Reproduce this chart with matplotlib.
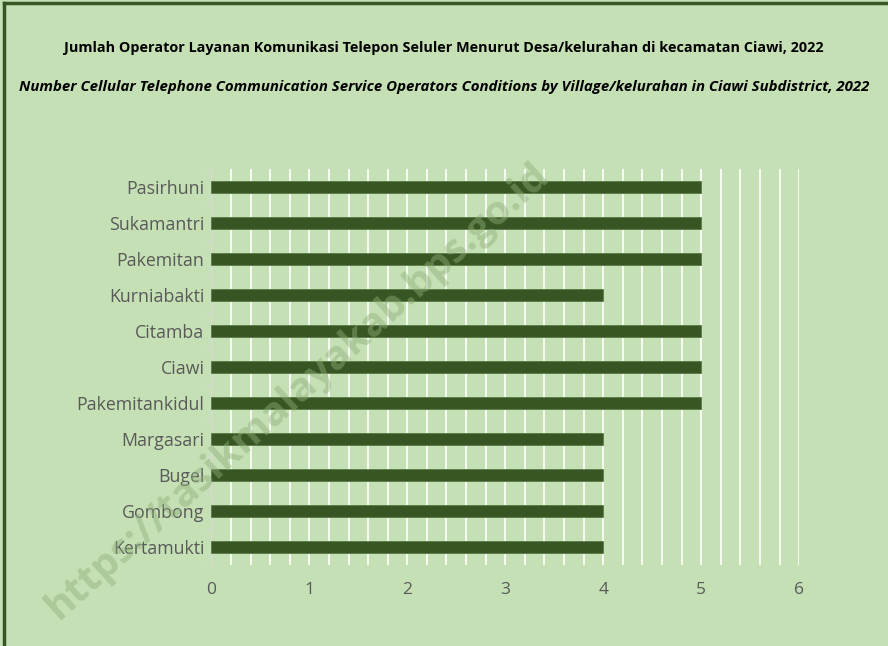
import matplotlib.pyplot as plt
import numpy as np
from matplotlib.lines import Line2D

villages = ["Pasirhuni", "Sukamantri", "Pakemitan", "Kurniabakti", "Citamba", "Ciawi",
            "Pakemitankidul", "Margasari", "Bugel", "Gombong", "Kertamukti"]
operators = [5, 5, 5, 4, 5, 5, 5, 4, 4, 4, 4]

title_id = "Jumlah Operator Layanan Komunikasi Telepon Seluler Menurut Desa/kelurahan di kecamatan Ciawi, 2022"
title_en = "Number Cellular Telephone Communication Service Operators Conditions by Village/kelurahan in Ciawi Subdistrict, 2022"

bg = "#c5e0b4"
bar_color = "#375623"
font = ["Open Sans", "DejaVu Sans"]

fig = plt.figure(figsize=(8.88, 6.46), dpi=100, facecolor=bg)
ax = fig.add_axes([0.238, 0.1254, 0.662, 0.613])
ax.set_facecolor(bg)

y = np.arange(len(villages))[::-1]
ax.barh(y, operators, height=0.33, color=bar_color, edgecolor="#5a7a45", linewidth=0.6, zorder=3)

ax.set_xlim(0, 6)
ax.set_ylim(-0.5, len(villages) - 0.5)
ax.set_xticks(range(7))
ax.set_xticks(np.arange(0, 6.01, 0.2), minor=True)
ax.xaxis.grid(True, which="both", color="white", linewidth=1.2, zorder=0)
ax.tick_params(axis="x", which="both", length=0, pad=12, labelsize=12.5, labelcolor="#595959")
ax.set_yticks(y)
ax.set_yticklabels(villages, fontsize=12.8, color="#595959", family=font)
ax.set_yticks(np.arange(-0.5, len(villages), 1), minor=True)
ax.tick_params(axis="y", which="major", length=0, pad=5)
ax.tick_params(axis="y", which="minor", length=4, color="#d9d9d9")
for lab in ax.get_xticklabels():
    lab.set_family(font)

for s in ["top", "right", "bottom"]:
    ax.spines[s].set_visible(False)
ax.spines["left"].set_color("#d9d9d9")

fig.text(0.5, 0.925, title_id, ha="center", va="center", fontsize=10.4, fontweight="bold", family=font)
fig.text(0.5, 0.866, title_en, ha="center", va="center", fontsize=10.8, fontweight="bold",
         style="italic", family=font)

# watermark
fig.text(0.335, 0.395, "https://tasikmalayakab.bps.go.id", ha="center", va="center", rotation=42,
         fontsize=29, fontweight="bold", color="#8fae7a", alpha=0.45, family=font, zorder=10)

# frame on top and left edges
fig.add_artist(Line2D([0.005, 1.0], [0.995, 0.995], color=bar_color, linewidth=2.5, transform=fig.transFigure))
fig.add_artist(Line2D([0.005, 0.005], [0.0, 0.995], color=bar_color, linewidth=2.5, transform=fig.transFigure))

fig.savefig("out.png", dpi=100, facecolor=bg)
